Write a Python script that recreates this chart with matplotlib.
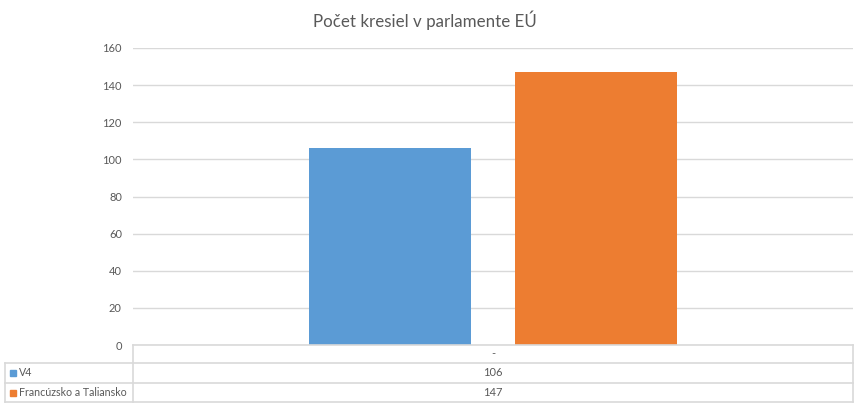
import matplotlib
matplotlib.use("Agg")
import matplotlib.pyplot as plt
from matplotlib.lines import Line2D
from matplotlib.patches import Rectangle

title = "Počet kresiel v parlamente EÚ"
categories = ["-"]
series_names = ["V4", "Francúzsko a Taliansko"]
series_values = [[106], [147]]
colors = ["#5B9BD5", "#ED7D31"]
yticks = [0, 20, 40, 60, 80, 100, 120, 140, 160]

W, H = 864, 408
fig = plt.figure(figsize=(W / 100, H / 100), dpi=100)
plt.rcParams['font.family'] = ['Lato', 'DejaVu Sans']

def fx(px):
    return px / W

def fy(py):
    return (H - py) / H

left, right, top, bottom = 133, 853, 48, 345
ax = fig.add_axes([fx(left), fy(bottom), fx(right) - fx(left), fy(top) - fy(bottom)])

bw = 0.225
offs = [-0.1425, 0.1425]
for name, vals, c, o in zip(series_names, series_values, colors, offs):
    ax.bar([i + o for i in range(len(categories))], vals, width=bw, color=c, zorder=3)

ax.set_xlim(-0.5, len(categories) - 0.5)
ax.set_ylim(0, 160)
ax.set_yticks(yticks)
ax.set_yticklabels([str(t) for t in yticks], fontsize=8, color="#595959")
ax.set_xticks([])
ax.yaxis.grid(True, color="#D9D9D9", linewidth=1, zorder=0)
ax.tick_params(axis="y", length=0, pad=8)
for s in ax.spines.values():
    s.set_visible(False)

fig.text(fx(425), fy(20), title, ha="center", va="center", fontsize=12.2, color="#595959")

# data table
gc = "#D9D9D9"
def hline(y, x0, x1):
    fig.add_artist(Line2D([fx(x0), fx(x1)], [fy(y), fy(y)], color=gc, lw=1.2))
def vline(x, y0, y1):
    fig.add_artist(Line2D([fx(x), fx(x)], [fy(y0), fy(y1)], color=gc, lw=1.2))

rows_y = [345, 363, 383, 402]
hline(345, left, right)
for y in rows_y[1:]:
    hline(y, 5, right)
vline(left, 345, 402)
vline(right, 345, 402)
vline(5, 363, 402)

center_x = (left + right) / 2
fig.text(fx(center_x), fy(354), categories[0], ha="center", va="center", fontsize=8, color="#595959")
for i, (name, vals, c) in enumerate(zip(series_names, series_values, colors)):
    yc = (rows_y[i + 1] + rows_y[i + 2]) / 2
    fig.add_artist(Rectangle((fx(10), fy(yc + 3)), fx(6), fy(yc - 3) - fy(yc + 3), color=c, transform=fig.transFigure))
    fig.text(fx(19), fy(yc), name, ha="left", va="center", fontsize=7.7, color="#595959")
    fig.text(fx(center_x), fy(yc), str(vals[0]), ha="center", va="center", fontsize=8, color="#595959")

fig.savefig("out.png", dpi=100)
